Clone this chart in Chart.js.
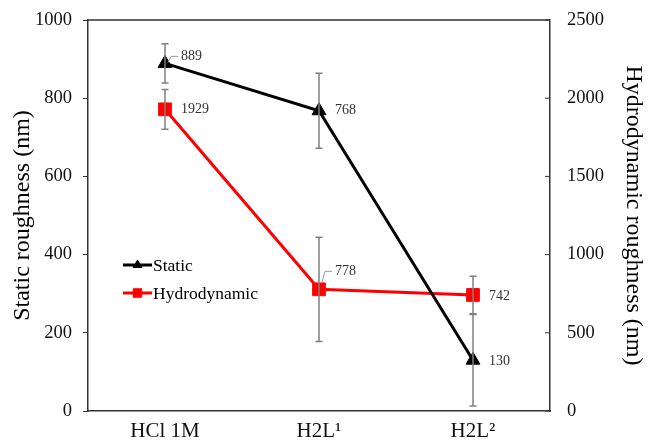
<!DOCTYPE html>
<html>
<head>
<meta charset="utf-8">
<script src="https://cdn.jsdelivr.net/npm/chart.js@4.4.1/dist/chart.umd.min.js"></script>
<style>
  html, body { margin: 0; padding: 0; background: #fff; }
  #wrap { width: 649px; height: 441px; }
</style>
</head>
<body>
<div id="wrap"><canvas id="roughnessChart" width="649" height="441"></canvas></div>
<script>
// Chart data
const categories = ['HCl 1M', 'H2L\u00B9', 'H2L\u00B2'];
const staticValues = [889, 768, 130];
const staticErrors = [50, 96, 117];
const hydroValues = [1929, 778, 742];
const hydroErrors = [127, 333, 120];
const staticTicks = [0, 200, 400, 600, 800, 1000];
const hydroTicks = [0, 500, 1000, 1500, 2000, 2500];

const serif = "'Liberation Serif', 'Times New Roman', serif";
const axisColor = '#333333';

// label placement relative to the point (dx, dy), leader = small callout line
const labelStyle = {
  0: [{ dx: 16, dy: -7, leader: true }, { dx: 16, dy: 0 }, { dx: 16, dy: 1 }],
  1: [{ dx: 16, dy: 0 }, { dx: 16, dy: -18, leader: true }, { dx: 16, dy: 1 }]
};

// error bars drawn through the dataset's own y scale
const errorBarPlugin = {
  id: 'errorBars',
  afterDatasetsDraw(chart) {
    const ctx = chart.ctx;
    ctx.save();
    ctx.strokeStyle = '#808080';
    ctx.lineWidth = 1.5;
    chart.data.datasets.forEach((ds, i) => {
      const meta = chart.getDatasetMeta(i);
      const scale = chart.scales[ds.yAxisID];
      meta.data.forEach((pt, j) => {
        const v = ds.data[j];
        const e = ds.errors[j];
        const yTop = scale.getPixelForValue(v + e);
        const yBot = scale.getPixelForValue(v - e);
        ctx.beginPath();
        ctx.moveTo(pt.x, yTop);
        ctx.lineTo(pt.x, yBot);
        ctx.moveTo(pt.x - 3.5, yTop);
        ctx.lineTo(pt.x + 3.5, yTop);
        ctx.moveTo(pt.x - 3.5, yBot);
        ctx.lineTo(pt.x + 3.5, yBot);
        ctx.stroke();
      });
    });
    ctx.restore();
  }
};

// value labels, frame line on top, inner ticks on the right axis, legend
const decorPlugin = {
  id: 'decor',
  afterDraw(chart) {
    const ctx = chart.ctx;
    const area = chart.chartArea;
    ctx.save();
    ctx.strokeStyle = axisColor;
    ctx.lineWidth = 1.5;
    ctx.beginPath();
    ctx.moveTo(area.left, area.top);
    ctx.lineTo(area.right, area.top);
    ctx.stroke();

    const y1 = chart.scales.y1;
    ctx.lineWidth = 1;
    y1.ticks.forEach(t => {
      const py = y1.getPixelForValue(t.value);
      ctx.beginPath();
      ctx.moveTo(area.right - 5, py);
      ctx.lineTo(area.right, py);
      ctx.stroke();
    });

    ctx.font = '14px ' + serif;
    ctx.textAlign = 'left';
    ctx.textBaseline = 'middle';
    chart.data.datasets.forEach((ds, i) => {
      const meta = chart.getDatasetMeta(i);
      meta.data.forEach((pt, j) => {
        const s = labelStyle[i][j];
        const lx = pt.x + s.dx;
        const ly = pt.y + s.dy;
        if (s.leader) {
          ctx.strokeStyle = '#999999';
          ctx.lineWidth = 1;
          ctx.beginPath();
          ctx.moveTo(pt.x + 3, pt.y - (i === 0 ? 1 : 7));
          ctx.lineTo(pt.x + 6, ly);
          ctx.lineTo(lx - 3, ly);
          ctx.stroke();
        }
        ctx.fillStyle = '#333333';
        ctx.fillText(String(ds.data[j]), lx, ly);
      });
    });

    // legend inside the plot
    const lgX = 123, lgY = 265, rowGap = 28;
    chart.data.datasets.forEach((ds, i) => {
      const y = lgY + i * rowGap;
      ctx.strokeStyle = ds.borderColor;
      ctx.fillStyle = ds.backgroundColor;
      ctx.lineWidth = 3;
      ctx.beginPath();
      ctx.moveTo(lgX, y);
      ctx.lineTo(lgX + 29, y);
      ctx.stroke();
      ctx.lineWidth = 1;
      Chart.helpers.drawPoint(ctx, {
        pointStyle: ds.pointStyle,
        radius: ds.pointStyle === 'triangle' ? 5 : 6,
        borderWidth: 1
      }, lgX + 14.5, y);
      ctx.fillStyle = '#000';
      ctx.font = '17.5px ' + serif;
      ctx.fillText(ds.label, lgX + 30, y + 1);
    });
    ctx.restore();
  }
};

window.onload = function () {
  const ctx = document.getElementById('roughnessChart').getContext('2d');
  const chart = new Chart(ctx, {
    type: 'line',
    data: {
      labels: categories,
      datasets: [{
        label: 'Static',
        data: staticValues,
        errors: staticErrors,
        yAxisID: 'y',
        borderColor: '#000000',
        backgroundColor: '#000000',
        borderWidth: 3,
        pointStyle: 'triangle',
        pointRadius: 8,
        pointBorderWidth: 1,
        tension: 0
      }, {
        label: 'Hydrodynamic',
        data: hydroValues,
        errors: hydroErrors,
        yAxisID: 'y1',
        borderColor: '#FF0000',
        backgroundColor: '#FF0000',
        borderWidth: 3,
        pointStyle: 'rect',
        pointRadius: 9,
        pointBorderWidth: 1,
        tension: 0
      }]
    },
    options: {
      responsive: false,
      animation: false,
      layout: { padding: { top: 20, left: 0, right: 0, bottom: 0 } },
      plugins: {
        legend: { display: false },
        tooltip: { enabled: false }
      },
      scales: {
        x: {
          type: 'category',
          offset: true,
          grid: { display: false, drawTicks: false },
          border: { display: true, color: axisColor, width: 1.5 },
          ticks: { font: { family: serif, size: 21 }, color: '#111', padding: 8, maxRotation: 0 },
          afterFit(scale) { scale.height = 30; scale.paddingLeft = 0; scale.paddingRight = 0; }
        },
        y: {
          position: 'left',
          min: 0,
          max: 1000,
          afterBuildTicks(scale) { scale.ticks = staticTicks.map(v => ({ value: v })); },
          grid: { display: true, drawOnChartArea: false, drawTicks: true, tickLength: 5, color: axisColor },
          border: { display: true, color: axisColor, width: 1.5 },
          ticks: { font: { family: serif, size: 18.5 }, color: '#111', padding: 11, callback: v => String(v) },
          title: {
            display: true,
            text: 'Static roughness (nm)',
            font: { family: serif, size: 24 },
            color: '#000',
            padding: { top: 8, bottom: 0 }
          },
          afterFit(scale) { scale.width = 88; scale.paddingTop = 0; scale.paddingBottom = 0; }
        },
        y1: {
          position: 'right',
          min: 0,
          max: 2500,
          afterBuildTicks(scale) { scale.ticks = hydroTicks.map(v => ({ value: v })); },
          grid: { display: false, drawTicks: false },
          border: { display: true, color: axisColor, width: 1.5 },
          ticks: { font: { family: serif, size: 18.5 }, color: '#111', padding: 17, callback: v => String(v) },
          title: {
            display: true,
            text: 'Hydrodynamic roughness (nm)',
            font: { family: serif, size: 24 },
            color: '#000',
            padding: { top: 1, bottom: 0 }
          },
          afterFit(scale) { scale.width = 99; scale.paddingTop = 0; scale.paddingBottom = 0; }
        }
      }
    },
    plugins: [errorBarPlugin, decorPlugin]
  });
};
</script>
</body>
</html>
